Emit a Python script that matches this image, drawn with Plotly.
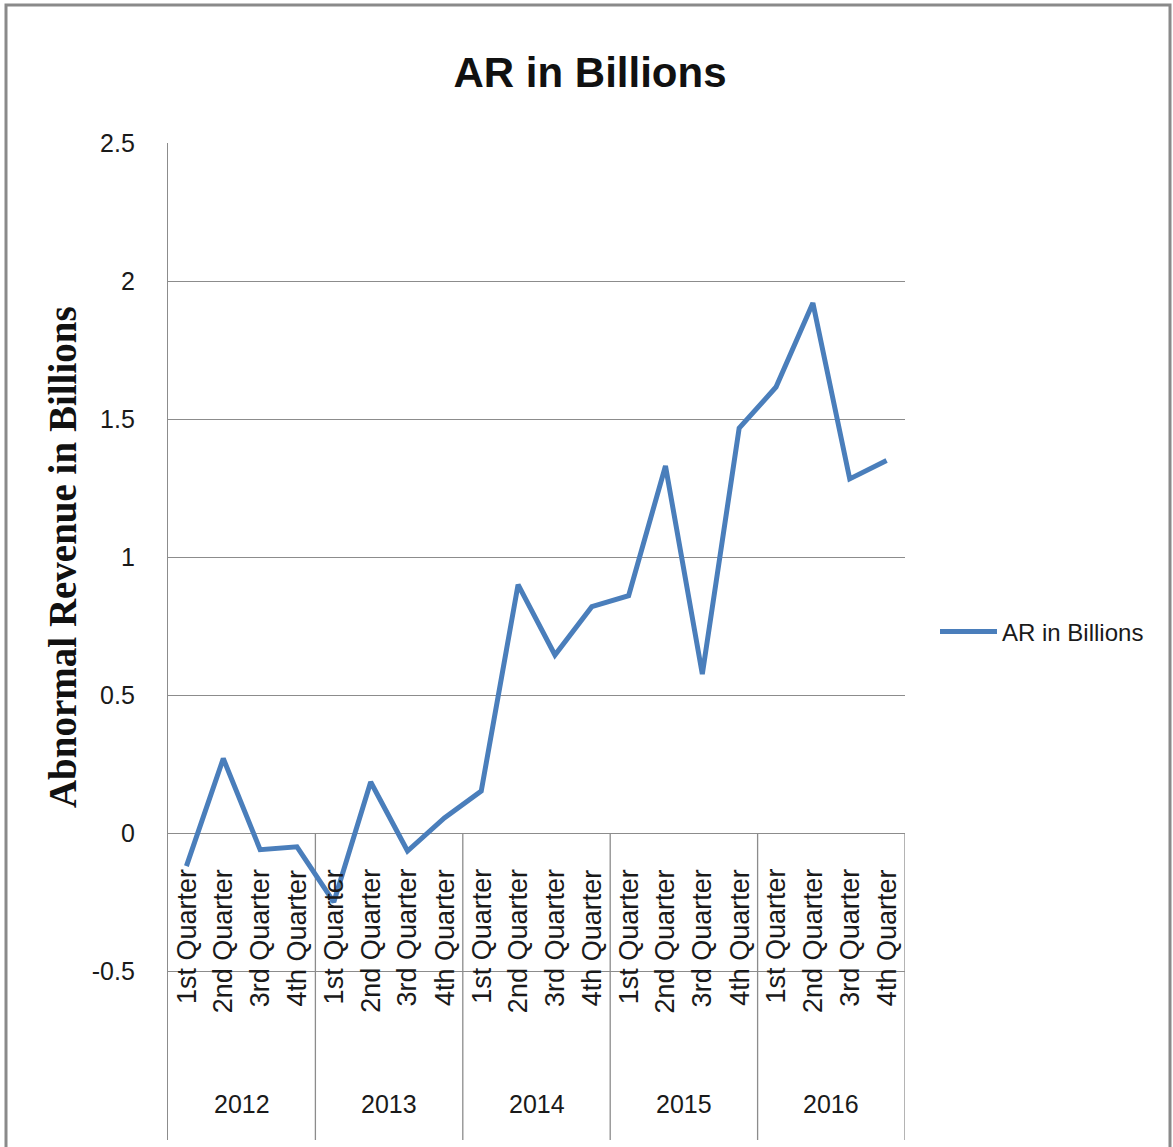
import plotly.graph_objects as go

quarters = ["1st Quarter", "2nd Quarter", "3rd Quarter", "4th Quarter"]
years = ["2012", "2013", "2014", "2015", "2016"]
values = [-0.12, 0.27, -0.06, -0.05,
          -0.25, 0.185, -0.065, 0.055,
          0.152, 0.90, 0.645, 0.82,
          0.86, 1.33, 0.576, 1.467,
          1.616, 1.92, 1.283, 1.35]
y_ticks = [-0.5, 0, 0.5, 1, 1.5, 2, 2.5]
y_ticktext = ["-0.5", "0", "0.5", "1", "1.5", "2", "2.5"]

series_name = "AR in Billions"
y_title = "Abnormal Revenue in Billions"
line_color = "#4a7ebb"
grid_color = "#8c8c8c"
font_narrow = "Liberation Sans Narrow, Arial Narrow, Liberation Sans, sans-serif"

n = len(years) * len(quarters)
x_idx = list(range(n))
y_bottom = -1.112

fig = go.Figure()
fig.add_trace(go.Scatter(
    x=x_idx, y=values, mode="lines", name=series_name,
    line=dict(color=line_color, width=5),
))

shapes = []
# year separators below zero
for k in range(1, len(years) + 1):
    xb = k * len(quarters) - 0.5
    shapes.append(dict(type="line", xref="x", yref="y", x0=xb, x1=xb, y0=0, y1=y_bottom,
                       line=dict(color=grid_color, width=1.3), layer="below"))
# outer frame
shapes.append(dict(type="rect", xref="paper", yref="paper",
                   x0=(6 - 168) / 737, x1=(1170 - 168) / 737, y0=-0.2, y1=(1140 - 5) / 997,
                   line=dict(color="#8a8a8a", width=3), layer="below"))

annotations = []
for i in range(n):
    annotations.append(dict(
        x=i, y=0, xref="x", yref="y", text=quarters[i % 4], showarrow=False,
        textangle=-90, xanchor="center", yanchor="top", yshift=-34,
        font=dict(family=font_narrow, size=27, color="#1a1a1a"),
    ))
for j, yr in enumerate(years):
    annotations.append(dict(
        x=j * 4 + 1.5, y=-0.98, xref="x", yref="y", text=yr, showarrow=False,
        xanchor="center", yanchor="middle",
        font=dict(family=font_narrow, size=25, color="#1a1a1a"),
    ))
# y-axis title
annotations.append(dict(
    x=(62 - 168) / 737, y=1.0, xref="paper", yref="y", text="<b>" + y_title + "</b>",
    showarrow=False, textangle=-90, xanchor="center", yanchor="middle",
    font=dict(family="Liberation Serif, Times New Roman, serif", size=39, color="#111111"),
))

fig.update_layout(
    width=1173, height=1147,
    margin=dict(l=168, r=268, t=143, b=7),
    paper_bgcolor="white", plot_bgcolor="white",
    title=dict(text="<b>AR in Billions</b>", x=590 / 1173, xanchor="center",
               y=1 - 72 / 1147, yanchor="middle",
               font=dict(family=font_narrow, size=42, color="#111111")),
    xaxis=dict(range=[-0.5, n - 0.5], showgrid=False, showticklabels=False,
               zeroline=False, showline=False, ticks=""),
    yaxis=dict(range=[y_bottom, 2.5], tickvals=y_ticks, ticktext=y_ticktext,
               showgrid=True, gridcolor=grid_color, gridwidth=1.3,
               zeroline=True, zerolinecolor=grid_color, zerolinewidth=1.3,
               showline=True, linecolor=grid_color, linewidth=1.3,
               ticks="outside", ticklen=27, tickcolor="rgba(0,0,0,0)",
               tickfont=dict(family=font_narrow, size=25, color="#1a1a1a")),
    showlegend=True,
    legend=dict(x=(935 - 168) / 737, y=(1140 - 632) / 997, xanchor="left", yanchor="middle",
                font=dict(family=font_narrow, size=24, color="#1a1a1a"),
                bgcolor="rgba(0,0,0,0)", itemwidth=57),
    shapes=shapes,
    annotations=annotations,
)

fig.write_html("out.html")
